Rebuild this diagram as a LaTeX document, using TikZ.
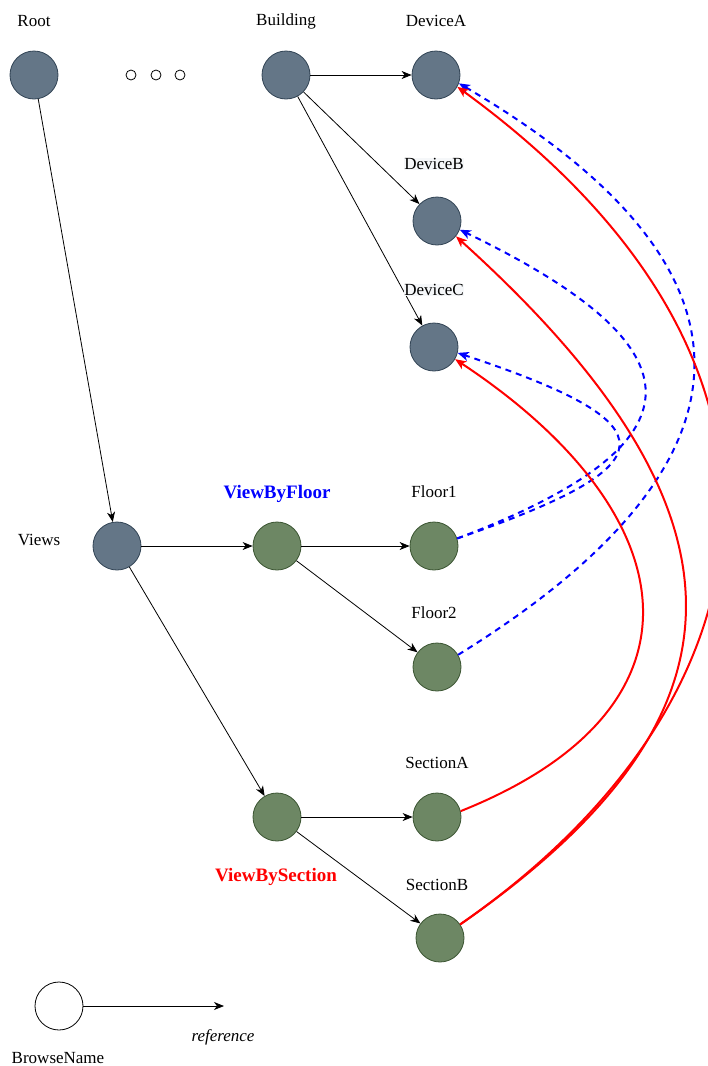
\documentclass[tikz,border=0pt]{standalone}
\usepackage{fontspec}
\setmainfont{Liberation Serif}
\usetikzlibrary{arrows.meta}
\definecolor{devfill}{HTML}{647687}
\definecolor{devline}{HTML}{314354}
\definecolor{grnfill}{HTML}{6D8764}
\definecolor{grnline}{HTML}{3A5431}
\definecolor{lblbg}{HTML}{F5F7F9}
\definecolor{refblue}{HTML}{0000FF}
\definecolor{refred}{HTML}{FF0000}
\begin{document}
\begin{tikzpicture}[x=1pt,y=-1pt,
  devnode/.style={circle,draw=devline,fill=devfill,line width=0.8pt,minimum size=48pt,inner sep=0pt},
  grnnode/.style={circle,draw=grnline,fill=grnfill,line width=0.8pt,minimum size=48pt,inner sep=0pt},
  legnode/.style={circle,draw=black,fill=white,line width=0.8pt,minimum size=48pt,inner sep=0pt},
  dotnode/.style={circle,draw=black,fill=white,line width=0.8pt,minimum size=10pt,inner sep=0pt},
  lbl/.style={inner sep=0.5pt,font=\fontsize{17}{20}\selectfont},
  boldlbl/.style={inner sep=0pt,font=\fontsize{19}{22}\selectfont\bfseries},
  edge/.style={draw=black,line width=0.8pt,-{Stealth[length=10pt,width=8pt,inset=3pt]}},
  floorref/.style={draw=refblue,line width=2pt,dash pattern=on 6pt off 5pt,-{Stealth[length=11pt,width=9pt,inset=3pt]}},
  secref/.style={draw=refred,line width=2pt,-{Stealth[length=11pt,width=9pt,inset=3pt]}}
]
\useasboundingbox (0,0) rectangle (708,1066);
\clip (0,0) rectangle (708,1066);

% nodes
\node[devnode] (root) at (34,75) {};
\node[dotnode] (d1) at (131,75) {};
\node[dotnode] (d2) at (156,75) {};
\node[dotnode] (d3) at (180,75) {};
\node[devnode] (building) at (286,75) {};
\node[devnode] (devA) at (436,75) {};
\node[devnode] (devB) at (437,221) {};
\node[devnode] (devC) at (434,347) {};
\node[devnode] (views) at (117,546) {};
\node[grnnode] (vbf) at (277,546) {};
\node[grnnode] (floor1) at (434,546) {};
\node[grnnode] (floor2) at (437,667) {};
\node[grnnode] (vbs) at (277,817) {};
\node[grnnode] (secA) at (437,817) {};
\node[grnnode] (secB) at (440,938) {};
\node[legnode] (browse) at (59,1006) {};
\coordinate (refend) at (224,1006);

% black edges
\draw[edge] (root) -- (views);
\draw[edge] (building) -- (devA);
\draw[edge] (building) -- (devB);
\draw[edge] (building) -- (devC);
\draw[edge] (views) -- (vbf);
\draw[edge] (views) -- (vbs);
\draw[edge] (vbf) -- (floor1);
\draw[edge] (vbf) -- (floor2);
\draw[edge] (vbs) -- (secA);
\draw[edge] (vbs) -- (secB);
\draw[edge] (browse) -- (refend);

% blue dashed references
\draw[floorref] (floor2.30) .. controls (770,462) and (774,268) .. (devA.-20);
\draw[floorref] (floor1.18) .. controls (709,443) and (705,348) .. (devB.-21);
\draw[floorref] (floor1.18) .. controls (670,465) and (675,425) .. (devC.-14);

% red references
\draw[secref] (secA.14) .. controls (719,708) and (688,513) .. (devC.-30);
\draw[secref] (secB.34) .. controls (755,720) and (767,517) .. (devB.-39);
\draw[secref] (secB.34) .. controls (772,708) and (846,370) .. (devA.-29);

% labels
\node[lbl] (lroot) at (34,21) {Root};
\node[lbl] (lbuilding) at (286,21) {Building};
\node[lbl] (ldevA) at (436,21) {DeviceA};
\node[lbl,fill=lblbg] (ldevB) at (434,164) {DeviceB};
\node[lbl,fill=lblbg] (ldevC) at (434,290) {DeviceC};
\node[lbl] (lviews) at (39,540) {Views};
\node[boldlbl,text=refblue] (lvbf) at (277,494) {ViewByFloor};
\node[lbl] (lfloor1) at (434,492) {Floor1};
\node[lbl] (lfloor2) at (434,613) {Floor2};
\node[lbl] (lsecA) at (437,763) {SectionA};
\node[lbl] (lsecB) at (437,885) {SectionB};
\node[boldlbl,text=refred] (lvbs) at (276,877) {ViewBySection};
\node[lbl] (lbrowse) at (58,1058) {BrowseName};
\node[lbl,font=\fontsize{17}{20}\selectfont\itshape] (lref) at (223,1037) {reference};
\end{tikzpicture}
\end{document}
